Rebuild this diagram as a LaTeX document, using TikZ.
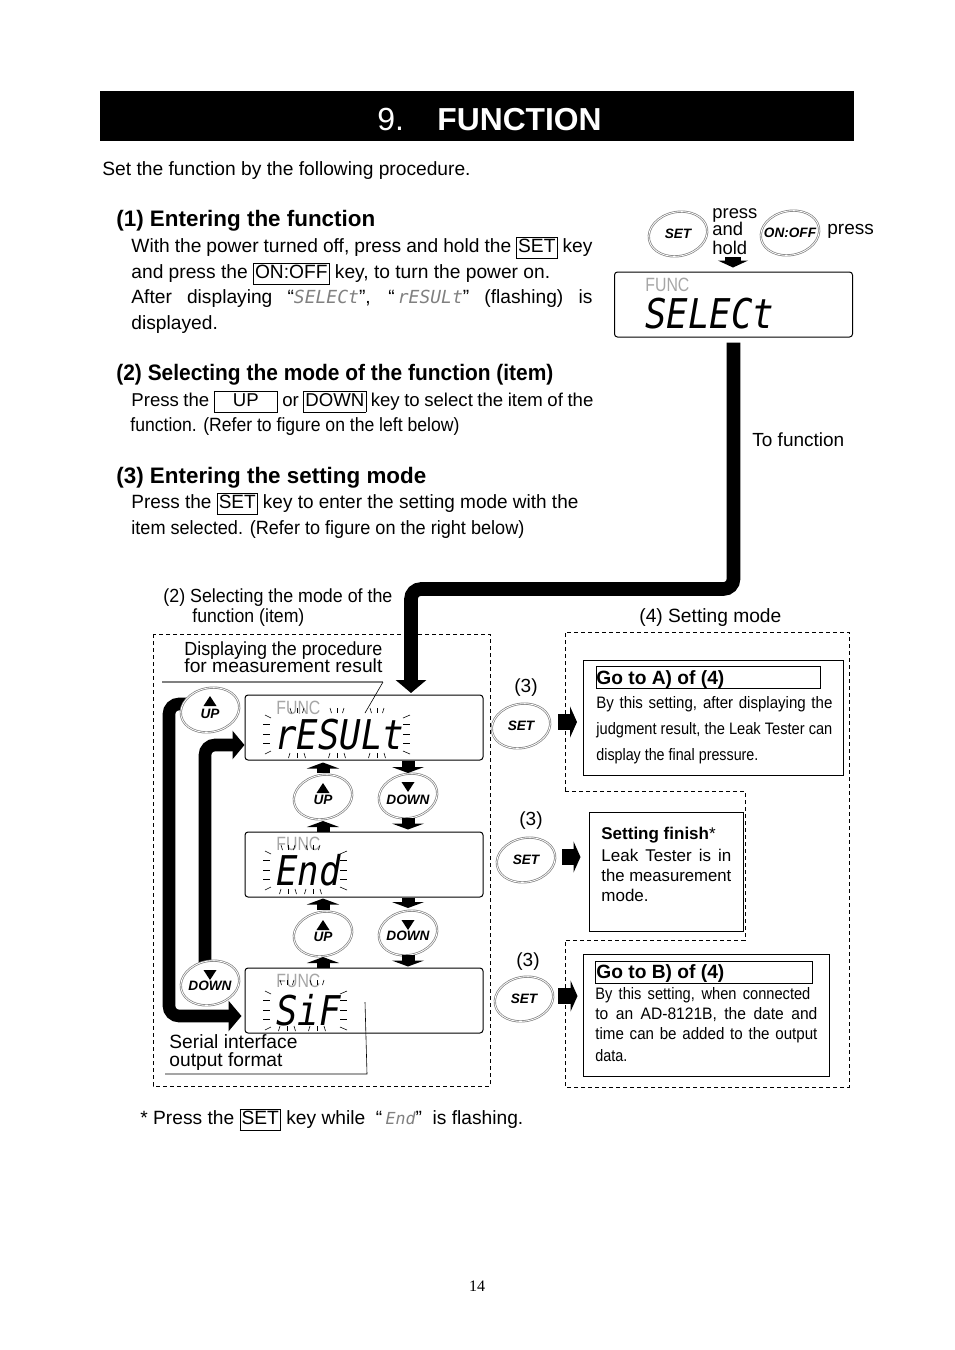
\documentclass[tikz,border=0pt]{standalone}
\usepackage{graphicx}
\usepackage{fontspec}
\setmainfont{Liberation Sans}
\newfontfamily\segfont{DejaVu Sans Mono}[FakeStretch=0.87]
\newfontfamily\segsmall{DejaVu Sans Mono}
\usetikzlibrary{arrows.meta, shapes.geometric, backgrounds}

\newcommand{\kbox}[1]{\setlength{\fboxsep}{0.6pt}\setlength{\fboxrule}{0.4pt}\fbox{\rule[-0.25em]{0pt}{0.95em}#1}}
\newcommand{\jline}[2]{\makebox[#1][s]{#2}}
\newcommand{\fitw}[2]{\resizebox{#1}{\height}{#2}}
\newcommand{\segin}[1]{{\color{gray}\segsmall\itshape\fontsize{9}{10}\selectfont #1}}

% flashing marks round a display: x left, x right, y centre, then top y, bottom y, x list
\newcommand{\lcdflash}[6]{
    \foreach \dy in {-10,0,9} {
        \draw[flashtick] (#1,#3+\dy) -- (#1+7,#3+\dy);
        \draw[flashtick] (#2,#3+\dy) -- (#2+7,#3+\dy);
    }
    \draw[flashtick] (#1+2,#3-19) -- (#1+8,#3-16);
    \draw[flashtick] (#1+2,#3+20) -- (#1+8,#3+17);
    \draw[flashtick] (#2,#3-16) -- (#2+7,#3-19);
    \draw[flashtick] (#2,#3+17) -- (#2+7,#3+20);
    \foreach \cx in {#6} {
        \draw[flashtick] (\cx-7,#5) -- (\cx-8.5,#5+5);
        \draw[flashtick] (\cx,#5) -- (\cx,#5+5);
        \draw[flashtick] (\cx+7,#5) -- (\cx+8.5,#5+5);
        \draw[flashtick] (\cx-7,#4) -- (\cx-5.5,#4+5);
        \draw[flashtick] (\cx,#4) -- (\cx,#4+5);
        \draw[flashtick] (\cx+7,#4) -- (\cx+5.5,#4+5);
    }
}

\tikzset{
    body/.style={anchor=base west, inner sep=0pt, font=\fontsize{9.6}{12}\selectfont},
    heading/.style={anchor=base west, inner sep=0pt, font=\fontsize{11.2}{13}\selectfont\bfseries},
    small/.style={anchor=base west, inner sep=0pt, font=\fontsize{9.5}{11}\selectfont},
    note/.style={anchor=base west, inner sep=0pt, font=\fontsize{8.3}{10}\selectfont},
    lcdbox/.style={draw, line width=0.5pt, rounded corners=1.5pt, minimum width=119pt, minimum height=32.5pt, inner sep=0pt},
    lcdfunc/.style={anchor=base west, inner sep=0pt, text=gray!70, font=\fontsize{9.6}{11}\selectfont},
    lcdtext/.style={anchor=base west, inner sep=0pt, font=\segfont\itshape\fontsize{20.5}{23}\selectfont},
    flashtick/.style={line width=0.3pt},
    keyoval/.style={ellipse, draw=gray, double=white, double distance=0.4pt, line width=0.35pt, fill=white, minimum width=29.5pt, minimum height=22pt, inner sep=0pt, rotate=12},
    keytext/.style={inner sep=0pt, font=\fontsize{6.8}{8}\selectfont\bfseries\itshape},
    boxframe/.style={draw, line width=0.5pt, inner sep=0pt},
    dashframe/.style={line width=0.5pt, dash pattern=on 2pt off 1.5pt},
    bigarrow/.style={line width=6.8pt, rounded corners=5pt, -{Triangle[length=6.5pt,width=15pt]}},
    stubarrow/.style={line width=6.5pt, -{Triangle[length=3pt,width=16pt]}},
    setarrow/.style={line width=8pt, -{Triangle[length=3.5pt,width=15.5pt]}}
}

\begin{document}
\begin{tikzpicture}[x=0.5pt, y=-0.5pt]
    \useasboundingbox (0,0) rectangle (954,1350);

    % title bar
    \fill (100,91) rectangle (854,141);
    \node[anchor=base west, inner sep=0pt, text=white, font=\fontsize{16}{18}\selectfont] (titlenum) at (377,130) {9.};
    \node[anchor=base west, inner sep=0pt, text=white, font=\fontsize{15.9}{18}\selectfont\bfseries] (titletxt) at (437,130) {FUNCTION};

    % procedure text
    \node[body] (intro) at (102,175) {Set the function by the following procedure.};

    \node[heading] (heada) at (116,226) {(1) Entering the function};
    \node[body] (texta) at (131,252) {\jline{230.5pt}{With the power turned off, press and hold the \kbox{SET} key}};
    \node[body] (textb) at (131,278) {and press the \kbox{ON:OFF} key, to turn the power on.};
    \node[body] (textc) at (131,303) {\jline{230.5pt}{After displaying “\segin{SELECt}”, “\,\segin{rESULt}” (flashing) is}};
    \node[body] (textd) at (131,329) {displayed.};

    \node[heading] (headb) at (116,380) {\fitw{218.5pt}{(2) Selecting the mode of the function (item)}};
    \node[body, font=\fontsize{9.3}{12}\selectfont] (texte) at (131,406) {\jline{231pt}{Press the \kbox{\makebox[30pt]{UP}} or \kbox{DOWN} key to select the item of the}};
    \node[body] (textf) at (130,431) {\fitw{164.5pt}{function. (Refer to figure on the left below)}};

    \node[heading] (headc) at (116,483) {(3) Entering the setting mode};
    \node[body] (textg) at (131,508) {\fitw{223.5pt}{Press the \kbox{SET} key to enter the setting mode with the}};
    \node[body] (texth) at (131,534) {\fitw{196.5pt}{item selected. (Refer to figure on the right below)}};

    % top right display
    \node[lcdbox] (lcdselect) at (733.5,304.5) {};
    \node[lcdfunc] (funcselect) at (645,291) {\fitw{22pt}{FUNC}};
    \node[lcdtext] (segselect) at (645,328) {SELECt};

    \foreach \kname/\kx/\ky/\ktext/\kdy in {
        keysetp/678/234/SET/0, keyonoff/790/233/ON:OFF/0,
        keyupl/210/710/UP/4, keydnl/210/983/DOWN/3,
        keyupa/323/797/UP/3, keydna/408/796/DOWN/4,
        keyupb/323/934/UP/3, keydnb/408/933/DOWN/3,
        keyseta/521/726/SET/0, keysetb/526/860/SET/0, keysetc/524/999/SET/0} {
        \node[keyoval] (\kname) at (\kx,\ky) {};
        \node[keytext] (\kname text) at (\kx,\ky+\kdy) {\ktext};
    }
    \foreach \tx/\ty in {210/701, 323/788, 323/925} {
        \fill (\tx-6.5,\ty+5) -- (\tx+6.5,\ty+5) -- (\tx,\ty-5) -- cycle;
    }
    \foreach \tx/\ty in {210/975, 408/787, 408/925} {
        \fill (\tx-6.5,\ty-5) -- (\tx+6.5,\ty-5) -- (\tx,\ty+5) -- cycle;
    }

    \node[small, font=\fontsize{9.2}{10}\selectfont] (holda) at (712,218) {press};
    \node[small, font=\fontsize{9.2}{10}\selectfont] (holdb) at (712,235) {and};
    \node[small, font=\fontsize{9.2}{10}\selectfont] (holdc) at (712,254) {hold};
    \node[small] (pressonoff) at (827,234) {press};
    \coordinate (holdstart) at (733,257);
    \draw[line width=8pt, -{Triangle[length=3.5pt,width=15pt]}, shorten >=2pt] (holdstart) -- (holdstart |- lcdselect.north);

    \node[small] (tofunc) at (752,446) {To function};

    % left frame and displays
    \node[small] (capa) at (163,602) {\fitw{114.5pt}{(2) Selecting the mode of the}};
    \node[small] (capb) at (192,622) {\fitw{56pt}{function (item)}};
    \node[small, font=\fontsize{9.6}{11}\selectfont] (capc) at (639,622) {(4) Setting mode};

    \draw[dashframe] (153,634) rectangle (490,1086);
    \draw[dashframe] (565,791) -- (565,632) -- (849,632) -- (849,1087) -- (565,1087) -- (565,940) -- (745,940) -- (745,791) -- cycle;

    \node[small] (resnotea) at (184,655) {\fitw{99pt}{Displaying the procedure}};
    \node[small] (resnoteb) at (184,672) {\fitw{99pt}{for measurement result}};
    \coordinate (leadstart) at (162,682);
    \coordinate (leadbend) at (383,682);
    \coordinate (leadend) at (365,713);
    \draw[gray, line width=0.6pt] (leadstart) -- (leadbend);
    \draw[line width=0.3pt] (leadbend) -- (leadend);

    \node[lcdbox] (lcdres) at (364,727.5) {};
    \node[lcdbox] (lcdend) at (364,864.5) {};
    \node[lcdbox] (lcdsif) at (364,1000.5) {};

    \node[lcdfunc] (funcres) at (276,714) {\fitw{22pt}{FUNC}};
    \node[lcdfunc] (funcend) at (276,850) {\fitw{22pt}{FUNC}};
    \node[lcdfunc] (funcsif) at (276,987) {\fitw{22pt}{FUNC}};
    \node[lcdtext] (segres) at (275,749) {rESULt};
    \node[lcdtext] (segend) at (276,885) {End};
    \node[lcdtext] (segsif) at (276,1025) {SiF};
    \lcdflash{263}{403}{734}{708}{753}{297,337,377}
    \lcdflash{263}{340}{870}{845}{889}{288,313}
    \lcdflash{263}{340}{1010}{980}{1026}{287,317}

    \node[small, font=\fontsize{9.6}{11}\selectfont] (sifnotea) at (169,1048) {Serial interface};
    \node[small, font=\fontsize{9.6}{11}\selectfont] (sifnoteb) at (169,1066) {output format};
    \coordinate (sifa) at (365,1002);
    \coordinate (sifb) at (367,1074);
    \coordinate (sifc) at (165,1074);
    \draw[line width=0.3pt] (sifa) -- (sifb) -- (sifc);

    % big arrows
    \draw[bigarrow, shorten <=2.5pt, shorten >=1pt] (lcdselect.south) -- (lcdselect.south |- 0,589) -- (411,589) -- (411,695);
    \begin{scope}[on background layer]
        \draw[bigarrow, line width=6.3pt, shorten >=1.5pt] ([yshift=3pt]keyupl.center) -- (169,704) -- (169,1016) -- (lcdsif.west |- 0,1016);
        \draw[bigarrow, line width=6.3pt, -{Triangle[length=6pt,width=14pt]}, shorten >=0pt] (205,983) -- (205,745) -- (lcdres.west |- 0,745);
    \end{scope}

    % short arrows between displays and keys
    \draw[stubarrow, shorten <=12pt, shorten >=1pt] (keyupa.center) -- (keyupa.center |- lcdres.south);
    \draw[stubarrow, shorten >=12pt] (keyupa.center |- lcdend.north) -- (keyupa.center);
    \draw[stubarrow, shorten >=11.5pt] (keydna.center |- lcdres.south) -- (keydna.center);
    \draw[stubarrow, shorten <=11pt, shorten >=1pt] (keydna.center) -- (keydna.center |- lcdend.north);
    \draw[stubarrow, shorten <=12pt, shorten >=0.5pt] (keyupb.center) -- (keyupb.center |- lcdend.south);
    \draw[stubarrow, shorten >=11.5pt] (keyupb.center |- lcdsif.north) -- (keyupb.center);
    \draw[stubarrow, shorten >=12.5pt] (keydnb.center |- lcdend.south) -- (keydnb.center);
    \draw[stubarrow, shorten <=11pt, shorten >=0.5pt] (keydnb.center) -- (keydnb.center |- lcdsif.north);

    % result boxes
    \node[boxframe, minimum width=130pt, minimum height=57.5pt] (boxa) at (713.5,718) {};
    \node[boxframe, minimum width=112pt, minimum height=11pt] (titlea) at (708,677) {};
    \node[small, font=\fontsize{9.6}{11}\selectfont\bfseries] (headboxa) at (596,684) {Go to A) of (4)};
    \node[note] (boxatexta) at (596,708) {\fitw{118pt}{\jline{130pt}{By this setting, after displaying the}}};
    \node[note] (boxatextb) at (596,734) {\fitw{118pt}{judgment result, the Leak Tester can}};
    \node[note] (boxatextc) at (596,760) {\fitw{81pt}{display the final pressure.}};

    \node[boxframe, minimum width=77pt, minimum height=59.5pt] (boxb) at (666,871.5) {};
    \node[note, font=\fontsize{8.5}{10}\selectfont] (boxbtexta) at (601,839) {\textbf{Setting finish}*};
    \node[note, font=\fontsize{8.5}{10}\selectfont] (boxbtextb) at (601,861) {\jline{65pt}{Leak Tester is in}};
    \node[note, font=\fontsize{8.5}{10}\selectfont] (boxbtextc) at (601,881) {\fitw{65pt}{the measurement}};
    \node[note, font=\fontsize{8.5}{10}\selectfont] (boxbtextd) at (601,901) {mode.};

    \node[boxframe, minimum width=123pt, minimum height=61pt] (boxc) at (706,1015) {};
    \node[boxframe, minimum width=108.5pt, minimum height=11pt] (titlec) at (703.5,972) {};
    \node[small, font=\fontsize{9.6}{11}\selectfont\bfseries] (headboxc) at (596,978) {Go to B) of (4)};
    \node[note] (boxctexta) at (595,999) {\fitw{107.5pt}{\jline{122pt}{By this setting, when connected}}};
    \node[note] (boxctextb) at (595,1019) {\fitw{111pt}{\jline{118pt}{to an AD-8121B, the date and}}};
    \node[note] (boxctextc) at (595,1039) {\fitw{111pt}{\jline{122pt}{time can be added to the output}}};
    \node[note] (boxctextd) at (595,1061) {\fitw{16pt}{data.}};

    \node[small] (stepa) at (514,692) {(3)};
    \node[small] (stepb) at (519,825) {(3)};
    \node[small] (stepc) at (516,966) {(3)};

    \draw[setarrow, shorten <=18.5pt, shorten >=3pt] (keyseta.center |- 0,722) -- (boxa.west |- 0,722);
    \draw[setarrow, shorten <=18pt, shorten >=4pt] (keysetb.center |- 0,857) -- (boxb.west |- 0,857);
    \draw[setarrow, shorten <=17pt, shorten >=2.5pt] (keysetc.center |- 0,996) -- (boxc.west |- 0,996);

    % foot
    \node[body] (footnote) at (140,1124) {* Press the \kbox{SET} key while~~“\,{\color{gray}\segsmall\itshape\fontsize{8.3}{10}\selectfont End}”~~is flashing.};
    \node[anchor=base, inner sep=0pt, font=\fontsize{8}{9}\selectfont] (pagenum) at (477,1291) {\fontspec{Liberation Serif}14};
\end{tikzpicture}
\end{document}
